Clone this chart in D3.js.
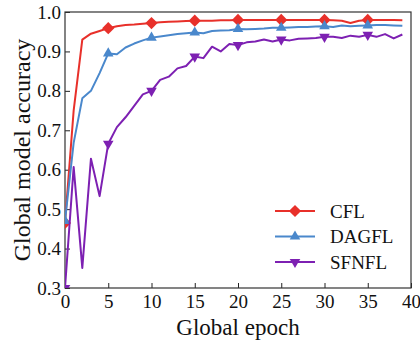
<!DOCTYPE html>
<html>
<head>
<meta charset="utf-8">
<script src="https://cdn.jsdelivr.net/npm/d3@7"></script>
<style>
  body { margin: 0; background: #fff; }
  text { font-family: "Liberation Serif", "Times New Roman", serif; fill: #111; }
</style>
</head>
<body>
<script>
// Chart data
const epochs = d3.range(0, 40);
const cfl = [0.465, 0.75, 0.93, 0.945, 0.952, 0.959, 0.964, 0.967, 0.968, 0.970,
  0.972, 0.974, 0.975, 0.976, 0.977, 0.978, 0.978, 0.978, 0.979, 0.979,
  0.980, 0.980, 0.980, 0.980, 0.980, 0.980, 0.980, 0.980, 0.980, 0.980,
  0.980, 0.979, 0.978, 0.972, 0.978, 0.980, 0.980, 0.980, 0.980, 0.979];
const dagfl = [0.47, 0.668, 0.781, 0.80, 0.845, 0.895, 0.893, 0.91, 0.92, 0.928,
  0.935, 0.938, 0.941, 0.944, 0.946, 0.948, 0.946, 0.952, 0.953, 0.954,
  0.957, 0.956, 0.957, 0.958, 0.960, 0.960, 0.961, 0.962, 0.962, 0.963,
  0.964, 0.962, 0.966, 0.964, 0.965, 0.966, 0.967, 0.967, 0.966, 0.965];
const sfnfl = [0.30, 0.607, 0.351, 0.628, 0.533, 0.666, 0.708, 0.733, 0.762, 0.791,
  0.80, 0.828, 0.836, 0.857, 0.863, 0.887, 0.883, 0.912, 0.90, 0.919,
  0.916, 0.923, 0.925, 0.93, 0.925, 0.93, 0.928, 0.932, 0.933, 0.934,
  0.937, 0.937, 0.934, 0.94, 0.937, 0.942, 0.937, 0.944, 0.933, 0.943];
const seriesNames = ["CFL", "DAGFL", "SFNFL"];
const xTicks = [0, 5, 10, 15, 20, 25, 30, 35, 40];
const yTicks = [0.3, 0.4, 0.5, 0.6, 0.7, 0.8, 0.9, 1.0];

const width = 420, height = 341;
const margin = { top: 12, right: 9, bottom: 53, left: 65 };
const innerW = width - margin.left - margin.right;
const innerH = height - margin.top - margin.bottom;

const svg = d3.select("body").append("svg")
  .attr("width", width)
  .attr("height", height);

const x = d3.scaleLinear().domain([0, 40]).range([0, innerW]);
const y = d3.scaleLinear().domain([0.3, 1.0]).range([innerH, 0]);

const g = svg.append("g").attr("transform", `translate(${margin.left},${margin.top})`);

svg.append("defs").append("clipPath").attr("id", "plotclip")
  .append("rect").attr("width", innerW).attr("height", innerH);

// axes with inward ticks
const xAxis = g.append("g")
  .attr("transform", `translate(0,${innerH})`)
  .call(d3.axisBottom(x).tickValues(xTicks).tickSizeInner(-5).tickSizeOuter(0).tickPadding(7));
const yAxis = g.append("g")
  .call(d3.axisLeft(y).tickValues(yTicks).tickFormat(d3.format(".1f")).tickSizeInner(-5).tickSizeOuter(0).tickPadding(4));

[xAxis, yAxis].forEach(ax => {
  ax.select(".domain").remove();
  ax.selectAll(".tick line").attr("stroke", "#222");
  ax.selectAll("text")
    .style("font-family", "'Liberation Serif', serif")
    .style("font-size", "19px")
    .attr("fill", "#111");
});

// frame
g.append("rect")
  .attr("width", innerW).attr("height", innerH)
  .attr("fill", "none").attr("stroke", "#333").attr("stroke-width", 1.2);

const series = [
  { name: seriesNames[0], values: cfl, color: "#e8302a", symbol: d3.symbolDiamond2, rot: 0, size: 95 },
  { name: seriesNames[1], values: dagfl, color: "#4a88cc", symbol: d3.symbolTriangle2, rot: 0, size: 80 },
  { name: seriesNames[2], values: sfnfl, color: "#7d20b2", symbol: d3.symbolTriangle2, rot: 180, size: 80 }
];

const line = d3.line().x((d, i) => x(epochs[i])).y(d => y(d));

const plot = g.append("g").attr("clip-path", "url(#plotclip)");

series.forEach(s => {
  plot.append("path")
    .datum(s.values)
    .attr("fill", "none")
    .attr("stroke", s.color)
    .attr("stroke-width", 2)
    .attr("stroke-linejoin", "round")
    .attr("d", line);

  plot.selectAll(null)
    .data(epochs.filter(e => e % 5 === 0))
    .enter()
    .append("path")
    .attr("d", d3.symbol().type(s.symbol).size(s.size))
    .attr("transform", e => `translate(${x(e)},${y(s.values[e])}) rotate(${s.rot})`)
    .attr("fill", s.color);
});

// legend
const legend = g.append("g").attr("transform", `translate(${275 - margin.left},${211 - margin.top})`);
series.forEach((s, i) => {
  const row = legend.append("g").attr("transform", `translate(0,${i * 25.5})`);
  row.append("line").attr("x1", 0).attr("x2", 40)
    .attr("stroke", s.color).attr("stroke-width", 2);
  row.append("path")
    .attr("d", d3.symbol().type(s.symbol).size(s.size))
    .attr("transform", `translate(20,0) rotate(${s.rot})`)
    .attr("fill", s.color);
  row.append("text")
    .attr("x", 55).attr("y", 0).attr("dy", "0.35em")
    .style("font-size", "19px")
    .text(s.name);
});

// axis titles
svg.append("text")
  .attr("x", margin.left + innerW / 2).attr("y", 335)
  .attr("text-anchor", "middle")
  .style("font-size", "23px")
  .text("Global epoch");

svg.append("text")
  .attr("transform", `translate(30,${margin.top + innerH / 2}) rotate(-90)`)
  .attr("text-anchor", "middle")
  .style("font-size", "24px")
  .text("Global model accuracy");
</script>
</body>
</html>
